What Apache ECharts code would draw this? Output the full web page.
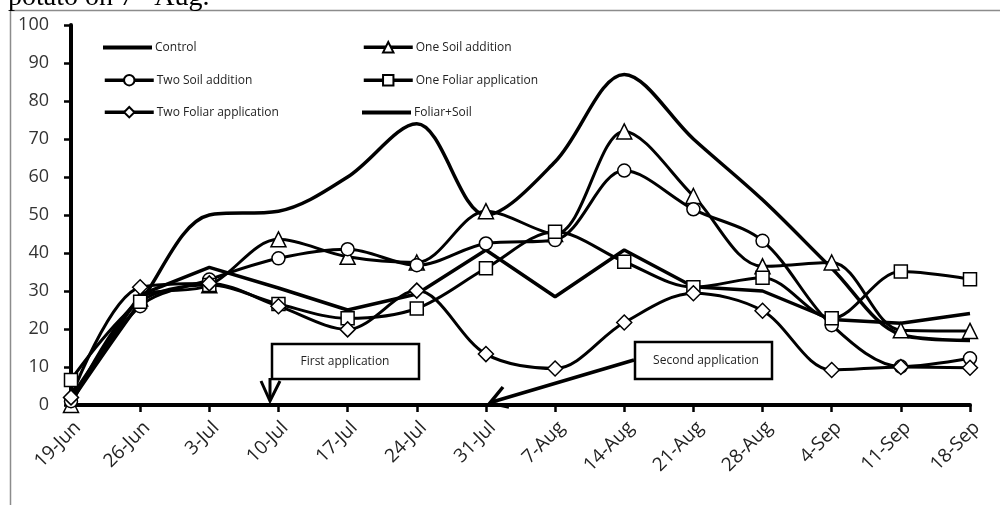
<!DOCTYPE html>
<html><head><meta charset="utf-8">
<script src="https://cdn.jsdelivr.net/npm/echarts@6/dist/echarts.min.js"></script>
<style>html,body{margin:0;padding:0;background:#fff}#c{width:1000px;height:505px}</style>
</head><body><div id="c"></div>
<script>
const categories = ['19-Jun','26-Jun','3-Jul','10-Jul','17-Jul','24-Jul','31-Jul','7-Aug','14-Aug','21-Aug','28-Aug','4-Sep','11-Sep','18-Sep'];
const control    = [1, 27, 50, 51, 60, 74, 50, 64, 87, 70, 54, 36, 18.5, 17];
const oneSoil    = [0, 28, 31.5, 43.6, 39, 37.5, 51, 45, 72, 55, 36.5, 37.5, 19.7, 19.5];
const twoSoil    = [1, 26, 33, 38.6, 41, 36.8, 42.5, 43.4, 61.7, 51.5, 43.2, 21, 10.1, 12.3];
const oneFoliar  = [6.6, 27.2, 31.6, 26.6, 22.8, 25.4, 36, 45.6, 37.7, 31, 33.5, 22.8, 35.1, 33.1];
const twoFoliar  = [2, 31, 32, 26, 19.9, 30.1, 13.4, 9.6, 21.7, 29.4, 24.8, 9.2, 10, 9.8];
const foliarSoil = [2, 29, 36.2, 30.8, 25, 29.2, 40.8, 28.5, 40.8, 31.1, 30, 22.5, 21.5, 24.1];
const seriesNames = ['Control','One Soil addition','Two Soil addition','One Foliar application','Two Foliar application','Foliar+Soil'];
const annotations = ['First application','Second application'];
const headerText = 'potato on 7';

const chart = echarts.init(document.getElementById('c'), null, {renderer:'canvas'});
const FONT = 'Open Sans';
function mk(name, data, symbol, smooth, width) {
  return {
    name, type:'line', data, smooth: smooth ? 0.33 : false, clip:false,
    symbol: symbol || 'none', showSymbol: !!symbol,
    symbolSize: symbol==='triangle'?15:(symbol==='diamond'?15:13),
    lineStyle:{color:'#000', width: width||3},
    itemStyle: symbol ? {color:'#fff', borderColor:'#000', borderWidth:1.5} : {color:'#000'},
    emphasis:{disabled:true}, animation:false
  };
}
const legendPos = [[103,46],[362,46],[103,79],[362,79],[103,111],[362,111]];
const legends = seriesNames.map((n,i)=>{
  const plain = (i===0 || i===5);
  const h = plain ? 4 : 13;
  return {
    data:[plain ? {name:n, icon:'rect', itemStyle:{color:'#000'}} : n],
    left: legendPos[i][0], top: legendPos[i][1] - (plain ? 4.5 : 5), orient:'horizontal',
    itemWidth:49, itemHeight:h, itemGap:0, padding:0,
    lineStyle:{width:3.5, color:'#000'},
    textStyle:{fontFamily:FONT, fontSize:12, color:'#222', padding:[0,0,0,-2]}
  };
});
chart.setOption({
  animation:false,
  backgroundColor:'#fff',
  grid:{left:71, right:30, top:25, bottom:100, containLabel:false},
  legend: legends,
  xAxis:{type:'category', data:categories, boundaryGap:false,
    axisLine:{lineStyle:{color:'#000', width:4}},
    axisTick:{show:true, length:7, lineStyle:{color:'#000', width:2.5}},
    axisLabel:{rotate:45, interval:0, fontFamily:FONT, fontSize:19, color:'#222', margin:13, align:'right', verticalAlign:'top'}},
  yAxis:{type:'value', min:0, max:100, interval:10,
    axisLine:{show:true, lineStyle:{color:'#000', width:4}},
    axisTick:{show:true, length:7, lineStyle:{color:'#000', width:2.5}},
    splitLine:{show:false},
    axisLabel:{fontFamily:FONT, fontSize:18, color:'#333', margin:22}},
  series:[
    mk(seriesNames[0], control, null, true, 3.5),
    mk(seriesNames[1], oneSoil, 'triangle', true),
    mk(seriesNames[2], twoSoil, 'circle', true),
    mk(seriesNames[3], oneFoliar, 'rect', true),
    mk(seriesNames[4], twoFoliar, 'diamond', true),
    mk(seriesNames[5], foliarSoil, null, false, 3.5)
  ],
  graphic:[
    {type:'rect', silent:true, shape:{x:10.5,y:10.5,width:1200,height:800}, style:{fill:null, stroke:'#8c8c8c', lineWidth:1.5}, z:-1},
    {type:'text', silent:true, x:8, y:-18, style:{text:headerText+'{s|th} Aug.', rich:{s:{fontSize:17, fontFamily:'Liberation Serif', verticalAlign:'top', padding:[0,0,14,0]}}, font:'28px "Liberation Serif"', fill:'#000'}},
    {type:'rect', silent:true, shape:{x:272,y:344,width:147,height:35}, style:{fill:'#fff', stroke:'#000', lineWidth:2.5}, z:100},
    {type:'text', silent:true, x:345, y:362, style:{text:annotations[0], font:'12px "Open Sans"', fill:'#222', align:'center', verticalAlign:'middle'}, z:101},
    {type:'polyline', silent:true, shape:{points:[[270,378],[270,399]]}, style:{stroke:'#000', lineWidth:3}, z:100},
    {type:'polyline', silent:true, shape:{points:[[261,381],[270,401],[280,381]]}, style:{stroke:'#000', lineWidth:3, fill:null}, z:100},
    {type:'rect', silent:true, shape:{x:635,y:342,width:137,height:37}, style:{fill:'#fff', stroke:'#000', lineWidth:2.5}, z:100},
    {type:'text', silent:true, x:706, y:361, style:{text:annotations[1], font:'12px "Open Sans"', fill:'#222', align:'center', verticalAlign:'middle'}, z:101},
    {type:'polyline', silent:true, shape:{points:[[634,360],[492,402]]}, style:{stroke:'#000', lineWidth:3.5}, z:100},
    {type:'polyline', silent:true, shape:{points:[[503,387],[490,403],[509,407]]}, style:{stroke:'#000', lineWidth:3.5, fill:null}, z:100}
  ]
});
</script></body></html>
